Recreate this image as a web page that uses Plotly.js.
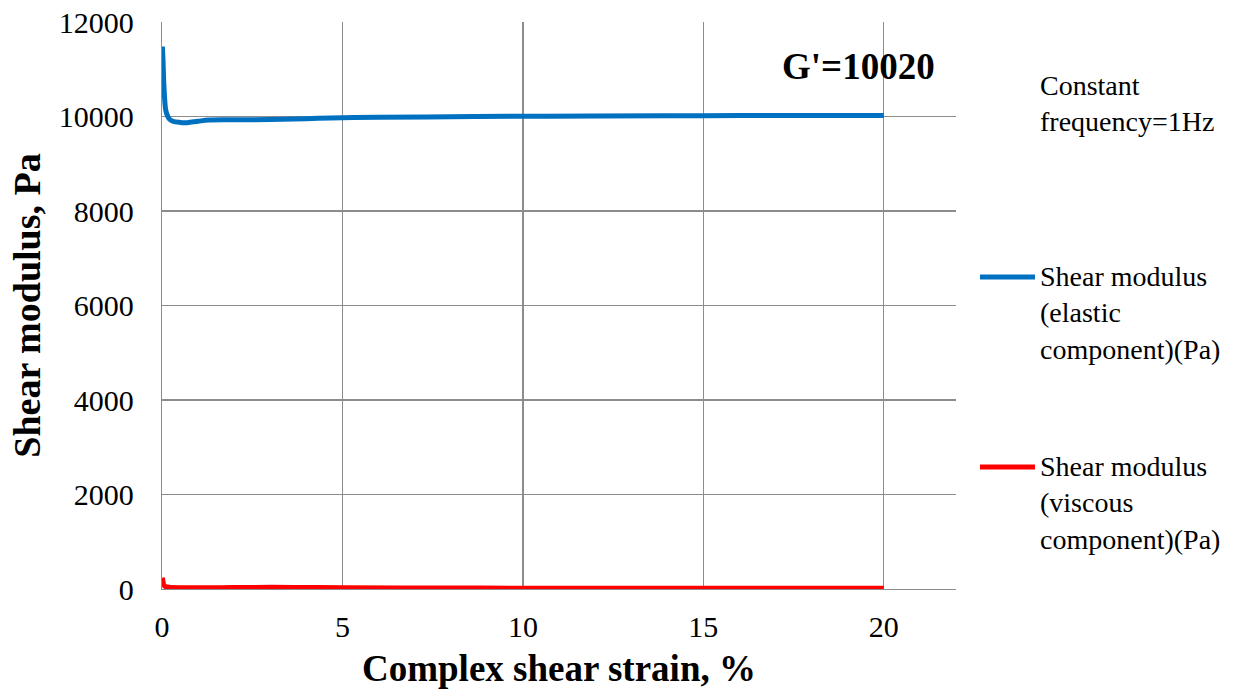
<!DOCTYPE html>
<html>
<head>
<meta charset="utf-8">
<script src="https://cdn.plot.ly/plotly-3.0.1.min.js"></script>
<style>html,body{margin:0;padding:0;background:#fff}#chart{width:1244px;height:695px}</style>
</head>
<body>
<div id="chart"></div>
<script>
// Data
const strainElastic = [0.01, 0.03, 0.05, 0.08, 0.1, 0.15, 0.2, 0.3, 0.5, 0.7, 1.0, 1.3, 2, 3, 4, 5, 6, 8, 10, 12, 15, 18, 20];
const elasticG = [11480, 11150, 10700, 10300, 10150, 10020, 9950, 9900, 9875, 9870, 9900, 9925, 9930, 9935, 9955, 9975, 9985, 9995, 10005, 10012, 10018, 10020, 10020];
const strainViscous = [0.01, 0.03, 0.05, 0.1, 0.2, 0.5, 1, 2, 3, 4, 5, 8, 10, 15, 20];
const viscousG = [240, 150, 80, 50, 35, 25, 25, 30, 35, 32, 28, 20, 18, 16, 15];
const xTicks = [0, 5, 10, 15, 20];
const yTicks = [0, 2000, 4000, 6000, 8000, 10000, 12000];
const seriesNames = ["Shear modulus<br>(elastic<br>component)(Pa)", "Shear modulus<br>(viscous<br>component)(Pa)"];
const seriesColors = ["#0070C0", "#FF0000"];

const font = "Liberation Serif";
const black = "rgb(0,0,0)";
const traces = [
  {x: strainElastic, y: elasticG, name: seriesNames[0], mode: "lines", line: {color: seriesColors[0], width: 5, shape: "spline"}},
  {x: strainViscous, y: viscousG, name: seriesNames[1], mode: "lines", line: {color: seriesColors[1], width: 5, shape: "spline"}}
];
// manual legend (paper coordinates) matching the reference's long swatches
const legendY = [0.5503, 0.2152];
const shapes = legendY.map((y, i) => ({type: "line", xref: "paper", yref: "paper", x0: 1.0302, x1: 1.0995, y0: y, y1: y,
  line: {color: seriesColors[i], width: 5}}));
const legendText = legendY.map((y, i) => ({xref: "paper", yref: "paper", x: 1.103, y: y + 0.032, xanchor: "left", yanchor: "top",
  align: "left", showarrow: false, text: seriesNames[i], font: {family: font, size: 28, color: black}}));

const layout = {
  width: 1244, height: 695,
  margin: {l: 162, r: 288, t: 22, b: 106},
  paper_bgcolor: "#fff", plot_bgcolor: "#fff",
  font: {family: font, size: 28, color: black},
  showlegend: false,
  xaxis: {
    range: [0, 22], tickvals: xTicks, ticktext: xTicks.map(String),
    showgrid: true, gridcolor: "#8c8c8c", gridwidth: 1.3,
    zeroline: false, showline: true, linecolor: "#8c8c8c", linewidth: 1.3,
    ticks: "", ticklabelstandoff: 11,
    tickfont: {family: font, size: 30, color: black},
    title: {text: "<b>Complex shear strain, %</b>", font: {family: font, size: 37, color: black}, standoff: 12}
  },
  yaxis: {
    range: [0, 12000], tickvals: yTicks, ticktext: yTicks.map(String),
    showgrid: true, gridcolor: "#8c8c8c", gridwidth: 1.3,
    zeroline: false, showline: true, linecolor: "#8c8c8c", linewidth: 1.3,
    ticks: "", ticklabelstandoff: 21,
    tickfont: {family: font, size: 30, color: black},
    title: {text: "<b>Shear modulus, Pa</b>", font: {family: font, size: 38, color: black}, standoff: 6}
  },
  shapes: shapes,
  annotations: [
    {xref: "paper", yref: "paper", x: 1.103, y: 0.919, xanchor: "left", yanchor: "top", align: "left", showarrow: false,
     text: "Constant<br>frequency=1Hz", font: {family: font, size: 28, color: black}},
    {xref: "x", yref: "y", x: 21.47, y: 11050, xanchor: "right", yanchor: "middle", showarrow: false,
     text: "<b>G'=10020</b>", font: {family: font, size: 37, color: black}}
  ].concat(legendText)
};
Plotly.newPlot("chart", traces, layout, {displayModeBar: false, staticPlot: true});
</script>
</body>
</html>
